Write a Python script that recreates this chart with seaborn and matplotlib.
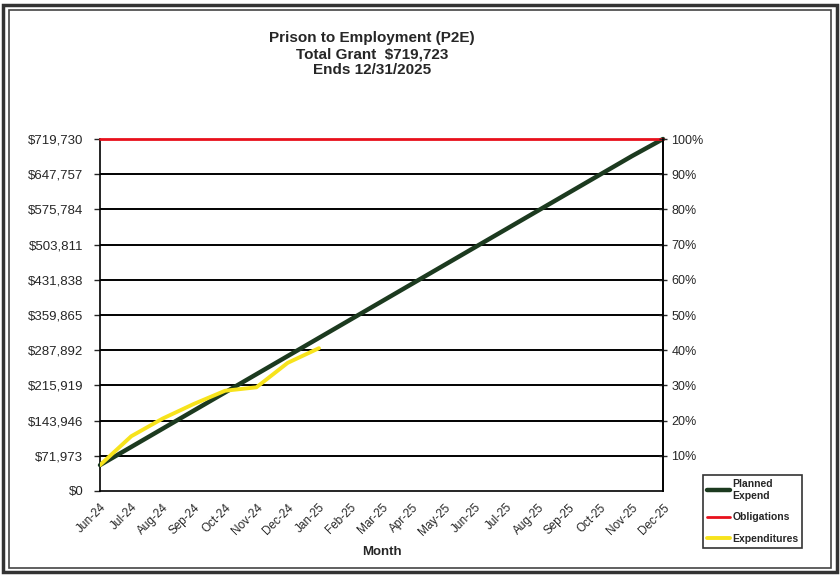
import pandas as pd
import matplotlib.pyplot as plt
import seaborn as sns
from matplotlib.patches import Rectangle

# data
months = ['Jun-24', 'Jul-24', 'Aug-24', 'Sep-24', 'Oct-24', 'Nov-24', 'Dec-24',
          'Jan-25', 'Feb-25', 'Mar-25', 'Apr-25', 'May-25', 'Jun-25', 'Jul-25',
          'Aug-25', 'Sep-25', 'Oct-25', 'Nov-25', 'Dec-25']
planned = [53000, 90150, 127300, 164450, 201600, 238750, 275900, 313050, 350200,
           387350, 424500, 461650, 498800, 535950, 573100, 610250, 647400, 684550, 719723]
obligations = [719723] * 19
expenditures = [53000, 112000, 148000, 178000, 205000, 212000, 262000, 292000]
y_ticks = [0, 71973, 143946, 215919, 287892, 359865, 431838, 503811, 575784, 647757, 719730]
y_labels = ['$0', '$71,973', '$143,946', '$215,919', '$287,892', '$359,865',
            '$431,838', '$503,811', '$575,784', '$647,757', '$719,730']
pct_labels = ['10%', '20%', '30%', '40%', '50%', '60%', '70%', '80%', '90%', '100%']

df = pd.DataFrame({'Month': months, 'Planned': planned, 'Obligations': obligations})
exp_df = pd.DataFrame({'Month': months[:len(expenditures)], 'Expenditures': expenditures})

sns.set_style('white')
plt.rcParams['font.family'] = ['Liberation Sans', 'DejaVu Sans']

fig = plt.figure(figsize=(8.4, 5.75), dpi=100)
ax = fig.add_axes([100 / 840, 1 - 491 / 575, 563 / 840, 352 / 575])

# gridlines first so the data sits on top
for t in y_ticks[1:-1]:
    ax.axhline(t, color='black', lw=1.4, zorder=1)

sns.lineplot(data=df, x='Month', y='Planned', sort=False, ax=ax, color='#1c3a1f',
             lw=3.2, label='Planned\nExpend', zorder=3, clip_on=False)
sns.lineplot(data=df, x='Month', y='Obligations', sort=False, ax=ax, color='#e8101c',
             lw=2.0, label='Obligations', zorder=4, clip_on=False)
sns.lineplot(data=exp_df, x='Month', y='Expenditures', sort=False, ax=ax, color='#f7e31c',
             lw=2.8, label='Expenditures', zorder=5)

ax.set_xlim(0, len(months) - 1)
ax.set_ylim(0, 719730)
ax.set_yticks(y_ticks)
ax.set_yticklabels(y_labels, fontsize=9.5)
ax.set_xticks(range(len(months)))
ax.set_xticklabels(months, fontsize=8.5, rotation=45, ha='right', rotation_mode='anchor')
ax.tick_params(axis='x', direction='inout', length=7, width=1, pad=4)
ax.tick_params(axis='y', direction='out', length=4, width=1, pad=8)
ax.set_xlabel('Month', fontsize=9.5, fontweight='bold', labelpad=6)
ax.set_ylabel('')

ax.spines['top'].set_visible(False)
for side in ['left', 'bottom', 'right']:
    ax.spines[side].set_color('black')
    ax.spines[side].set_linewidth(1.2)

# right-hand percent axis
ax2 = ax.twinx()
ax2.set_ylim(ax.get_ylim())
ax2.set_yticks(y_ticks[1:])
ax2.set_yticklabels(pct_labels, fontsize=9)
ax2.tick_params(axis='y', direction='inout', length=6, width=1, pad=3)
ax2.spines['top'].set_visible(False)
ax2.spines['left'].set_visible(False)
ax2.spines['bottom'].set_visible(False)
ax2.spines['right'].set_linewidth(1.2)
ax2.spines['right'].set_color('black')

# legend outside at bottom right
handles, labels = ax.get_legend_handles_labels()
ax.legend_.remove()
leg = fig.legend(handles, labels, loc='upper left', bbox_to_anchor=(703 / 840, 1 - 475 / 575),
                 fontsize=7.5, frameon=True, fancybox=False, edgecolor='black',
                 handlelength=2.2, handletextpad=0.2, labelspacing=1.1,
                 borderpad=0.4, borderaxespad=0)
leg.get_frame().set_linewidth(1.2)
for txt in leg.get_texts():
    txt.set_fontweight('bold')

fig.suptitle('Prison to Employment (P2E)\nTotal Grant  $719,723\nEnds 12/31/2025',
             x=372 / 840, y=1 - 31 / 575, fontsize=11, fontweight='bold',
             linespacing=1.2, va='top')

# double frame around the whole chart like the printout
fig.patches.append(Rectangle((3 / 840, 3 / 575), 834 / 840, 567 / 575, transform=fig.transFigure,
                             fill=False, edgecolor='#333333', lw=2.5))
fig.patches.append(Rectangle((9 / 840, 7 / 575), 822 / 840, 558 / 575, transform=fig.transFigure,
                             fill=False, edgecolor='#444444', lw=1.2))

fig.savefig('out.png', dpi=100)
